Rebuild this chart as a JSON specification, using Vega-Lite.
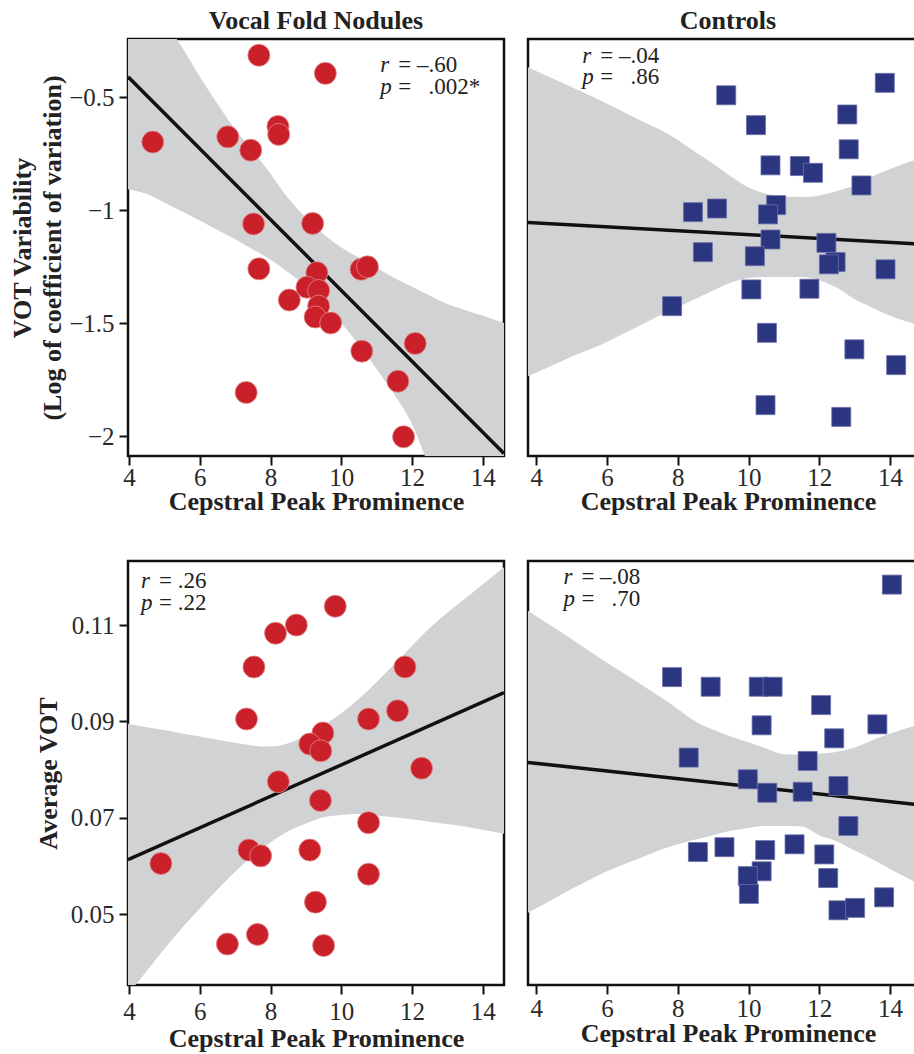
{
  "$schema": "https://vega.github.io/schema/vega-lite/v6.json",
  "padding": {"left": 8, "top": 6, "right": 0, "bottom": 0},
  "background": "white",
  "config": {
    "font": "Liberation Serif",
    "view": {"stroke": "#111", "strokeWidth": 2.5},
    "axis": {
      "grid": false, "domain": false, "ticks": true, "tickColor": "#111", "tickWidth": 2, "tickSize": 9,
      "labelFont": "Liberation Serif", "labelFontSize": 25, "labelColor": "#2a2a2a",
      "titleFont": "Liberation Serif", "titleFontSize": 26, "titleFontWeight": "bold", "titleColor": "#222"
    },
    "title": {"font": "Liberation Serif", "fontSize": 26, "fontWeight": "bold", "color": "#222", "anchor": "middle", "offset": 5}
  },
  "columns": 2,
  "bounds": "flush",
  "spacing": {"row": 105, "column": 24},
  "datasets": {
    "tl_pts": [
      {"cpp": 7.67, "v": -0.315}, {"cpp": 9.55, "v": -0.395}, {"cpp": 4.67, "v": -0.699}, {"cpp": 6.79, "v": -0.676},
      {"cpp": 7.44, "v": -0.735}, {"cpp": 8.21, "v": -0.630}, {"cpp": 8.23, "v": -0.665}, {"cpp": 7.52, "v": -1.061},
      {"cpp": 9.19, "v": -1.059}, {"cpp": 7.67, "v": -1.260}, {"cpp": 10.56, "v": -1.262}, {"cpp": 10.74, "v": -1.251},
      {"cpp": 9.31, "v": -1.277}, {"cpp": 9.03, "v": -1.341}, {"cpp": 9.36, "v": -1.356}, {"cpp": 8.53, "v": -1.398},
      {"cpp": 9.36, "v": -1.425}, {"cpp": 9.26, "v": -1.473}, {"cpp": 9.70, "v": -1.499}, {"cpp": 12.09, "v": -1.590},
      {"cpp": 10.58, "v": -1.624}, {"cpp": 11.60, "v": -1.757}, {"cpp": 7.31, "v": -1.807}, {"cpp": 11.76, "v": -2.003}
    ],
    "tl_band": [
      {"cpp": 3.97, "v": 0.09, "v2": -0.908}, {"cpp": 4.5, "v": -0.043, "v2": -0.929}, {"cpp": 5, "v": -0.16, "v2": -0.967},
      {"cpp": 5.5, "v": -0.28, "v2": -1.006}, {"cpp": 6, "v": -0.41, "v2": -1.046}, {"cpp": 6.5, "v": -0.53, "v2": -1.088},
      {"cpp": 7, "v": -0.645, "v2": -1.129}, {"cpp": 7.5, "v": -0.739, "v2": -1.174}, {"cpp": 8, "v": -0.839, "v2": -1.220},
      {"cpp": 8.5, "v": -0.948, "v2": -1.275}, {"cpp": 9, "v": -1.035, "v2": -1.337}, {"cpp": 9.5, "v": -1.107, "v2": -1.413},
      {"cpp": 10, "v": -1.166, "v2": -1.499}, {"cpp": 10.5, "v": -1.211, "v2": -1.597}, {"cpp": 11, "v": -1.255, "v2": -1.703},
      {"cpp": 11.5, "v": -1.300, "v2": -1.816}, {"cpp": 12, "v": -1.339, "v2": -1.946}, {"cpp": 12.5, "v": -1.378, "v2": -2.14},
      {"cpp": 13, "v": -1.416, "v2": -2.3}, {"cpp": 13.5, "v": -1.442, "v2": -2.45}, {"cpp": 14, "v": -1.468, "v2": -2.6},
      {"cpp": 14.6, "v": -1.499, "v2": -2.78}
    ],
    "tl_fit": [{"cpp": 3.97, "v": -0.410}, {"cpp": 14.6, "v": -2.077}],
    "tl_txt": [{"cpp": 11.10, "v": -0.390, "t": "r", "s": "= –.60"}, {"cpp": 11.10, "v": -0.487, "t": "p", "s": "= \u2007.002*"}],
    "tr_pts": [
      {"cpp": 13.85, "v": -0.437}, {"cpp": 9.37, "v": -0.492}, {"cpp": 10.21, "v": -0.624}, {"cpp": 12.79, "v": -0.577},
      {"cpp": 12.83, "v": -0.731}, {"cpp": 10.62, "v": -0.802}, {"cpp": 11.45, "v": -0.805}, {"cpp": 11.82, "v": -0.835},
      {"cpp": 13.19, "v": -0.891}, {"cpp": 8.43, "v": -1.009}, {"cpp": 9.11, "v": -0.993}, {"cpp": 10.78, "v": -0.978},
      {"cpp": 10.55, "v": -1.019}, {"cpp": 10.62, "v": -1.130}, {"cpp": 12.20, "v": -1.145}, {"cpp": 8.71, "v": -1.186},
      {"cpp": 10.18, "v": -1.204}, {"cpp": 12.46, "v": -1.230}, {"cpp": 12.27, "v": -1.240}, {"cpp": 13.87, "v": -1.262},
      {"cpp": 10.08, "v": -1.351}, {"cpp": 11.72, "v": -1.348}, {"cpp": 7.84, "v": -1.425}, {"cpp": 10.52, "v": -1.543},
      {"cpp": 12.99, "v": -1.616}, {"cpp": 14.17, "v": -1.686}, {"cpp": 10.48, "v": -1.863}, {"cpp": 12.62, "v": -1.915}
    ],
    "tr_band": [
      {"cpp": 3.77, "v": -0.368, "v2": -1.735}, {"cpp": 4.5, "v": -0.42, "v2": -1.684}, {"cpp": 5, "v": -0.455, "v2": -1.649},
      {"cpp": 5.86, "v": -0.518, "v2": -1.594}, {"cpp": 6.5, "v": -0.568, "v2": -1.544}, {"cpp": 7, "v": -0.607, "v2": -1.505},
      {"cpp": 7.75, "v": -0.665, "v2": -1.447}, {"cpp": 8.5, "v": -0.743, "v2": -1.393}, {"cpp": 9, "v": -0.795, "v2": -1.356},
      {"cpp": 9.63, "v": -0.865, "v2": -1.314}, {"cpp": 10, "v": -0.900, "v2": -1.300}, {"cpp": 10.5, "v": -0.928, "v2": -1.296},
      {"cpp": 11, "v": -0.940, "v2": -1.296}, {"cpp": 11.5, "v": -0.942, "v2": -1.296}, {"cpp": 12, "v": -0.935, "v2": -1.310},
      {"cpp": 12.5, "v": -0.915, "v2": -1.344}, {"cpp": 13, "v": -0.890, "v2": -1.395}, {"cpp": 13.5, "v": -0.850, "v2": -1.432},
      {"cpp": 14, "v": -0.818, "v2": -1.468}, {"cpp": 14.73, "v": -0.776, "v2": -1.506}, {"cpp": 15.1, "v": -0.755, "v2": -1.525}
    ],
    "tr_fit": [{"cpp": 3.77, "v": -1.055}, {"cpp": 15.07, "v": -1.152}],
    "tr_txt": [{"cpp": 5.30, "v": -0.350, "t": "r", "s": "= –.04"}, {"cpp": 5.30, "v": -0.443, "t": "p", "s": "= \u2007.86"}],
    "bl_pts": [
      {"cpp": 9.83, "v": 0.1139}, {"cpp": 8.73, "v": 0.1100}, {"cpp": 8.14, "v": 0.1083}, {"cpp": 7.53, "v": 0.1013},
      {"cpp": 11.80, "v": 0.1013}, {"cpp": 7.32, "v": 0.0905}, {"cpp": 10.77, "v": 0.0905}, {"cpp": 11.59, "v": 0.0922},
      {"cpp": 9.48, "v": 0.0876}, {"cpp": 9.11, "v": 0.0853}, {"cpp": 9.42, "v": 0.0839}, {"cpp": 12.27, "v": 0.0803},
      {"cpp": 8.22, "v": 0.0775}, {"cpp": 9.41, "v": 0.0736}, {"cpp": 10.77, "v": 0.0690}, {"cpp": 7.39, "v": 0.0633},
      {"cpp": 7.72, "v": 0.0621}, {"cpp": 9.11, "v": 0.0633}, {"cpp": 4.90, "v": 0.0605}, {"cpp": 10.77, "v": 0.0583},
      {"cpp": 9.27, "v": 0.0525}, {"cpp": 7.63, "v": 0.0458}, {"cpp": 6.78, "v": 0.0438}, {"cpp": 9.50, "v": 0.0435}
    ],
    "bl_band": [
      {"cpp": 3.97, "v": 0.0895, "v2": 0.0334}, {"cpp": 4.5, "v": 0.0888, "v2": 0.0382}, {"cpp": 5, "v": 0.0882, "v2": 0.0428},
      {"cpp": 5.5, "v": 0.0875, "v2": 0.0472}, {"cpp": 6, "v": 0.0869, "v2": 0.0512}, {"cpp": 6.5, "v": 0.0862, "v2": 0.0551},
      {"cpp": 7, "v": 0.0856, "v2": 0.0588}, {"cpp": 7.5, "v": 0.0850, "v2": 0.0621}, {"cpp": 8, "v": 0.0848, "v2": 0.0649},
      {"cpp": 8.5, "v": 0.0855, "v2": 0.0672}, {"cpp": 9, "v": 0.0871, "v2": 0.0688}, {"cpp": 9.5, "v": 0.0892, "v2": 0.0701},
      {"cpp": 10, "v": 0.0917, "v2": 0.0706}, {"cpp": 10.5, "v": 0.0947, "v2": 0.0708}, {"cpp": 11, "v": 0.0982, "v2": 0.0705},
      {"cpp": 11.5, "v": 0.1019, "v2": 0.0701}, {"cpp": 12, "v": 0.1057, "v2": 0.0697}, {"cpp": 12.5, "v": 0.1094, "v2": 0.0692},
      {"cpp": 13, "v": 0.1126, "v2": 0.0687}, {"cpp": 13.5, "v": 0.1155, "v2": 0.0682}, {"cpp": 14, "v": 0.1185, "v2": 0.0675},
      {"cpp": 14.6, "v": 0.1220, "v2": 0.0667}
    ],
    "bl_fit": [{"cpp": 3.97, "v": 0.0613}, {"cpp": 14.6, "v": 0.0960}],
    "bl_txt": [{"cpp": 4.34, "v": 0.1178, "t": "r", "s": "= .26"}, {"cpp": 4.34, "v": 0.1131, "t": "p", "s": "= .22"}],
    "br_pts": [
      {"cpp": 14.05, "v": 0.1184}, {"cpp": 7.84, "v": 0.0992}, {"cpp": 8.93, "v": 0.0972}, {"cpp": 10.29, "v": 0.0972},
      {"cpp": 10.68, "v": 0.0972}, {"cpp": 12.05, "v": 0.0934}, {"cpp": 10.37, "v": 0.0892}, {"cpp": 13.64, "v": 0.0894},
      {"cpp": 12.42, "v": 0.0865}, {"cpp": 8.31, "v": 0.0825}, {"cpp": 11.67, "v": 0.0818}, {"cpp": 9.98, "v": 0.0780},
      {"cpp": 10.53, "v": 0.0752}, {"cpp": 11.53, "v": 0.0754}, {"cpp": 12.54, "v": 0.0766}, {"cpp": 12.82, "v": 0.0683},
      {"cpp": 8.57, "v": 0.0629}, {"cpp": 9.32, "v": 0.0639}, {"cpp": 10.47, "v": 0.0633}, {"cpp": 11.30, "v": 0.0645},
      {"cpp": 12.14, "v": 0.0624}, {"cpp": 10.37, "v": 0.0589}, {"cpp": 9.98, "v": 0.0579}, {"cpp": 12.25, "v": 0.0575},
      {"cpp": 10.01, "v": 0.0542}, {"cpp": 13.83, "v": 0.0535}, {"cpp": 12.54, "v": 0.0508}, {"cpp": 13.01, "v": 0.0513}
    ],
    "br_band": [
      {"cpp": 3.77, "v": 0.1130, "v2": 0.0503}, {"cpp": 4.5, "v": 0.1095, "v2": 0.0532}, {"cpp": 5, "v": 0.1071, "v2": 0.0552},
      {"cpp": 5.5, "v": 0.1046, "v2": 0.0571}, {"cpp": 6, "v": 0.1022, "v2": 0.0589}, {"cpp": 6.5, "v": 0.0999, "v2": 0.0604},
      {"cpp": 7, "v": 0.0975, "v2": 0.0618}, {"cpp": 7.5, "v": 0.0951, "v2": 0.0633}, {"cpp": 8, "v": 0.0926, "v2": 0.0645},
      {"cpp": 8.5, "v": 0.0900, "v2": 0.0655}, {"cpp": 9, "v": 0.0883, "v2": 0.0664}, {"cpp": 9.5, "v": 0.0869, "v2": 0.0673},
      {"cpp": 10, "v": 0.0857, "v2": 0.0679}, {"cpp": 10.5, "v": 0.0844, "v2": 0.0683}, {"cpp": 11, "v": 0.0832, "v2": 0.0683},
      {"cpp": 11.5, "v": 0.0831, "v2": 0.0682}, {"cpp": 12, "v": 0.0833, "v2": 0.0664}, {"cpp": 12.5, "v": 0.0837, "v2": 0.0651},
      {"cpp": 13, "v": 0.0846, "v2": 0.0632}, {"cpp": 13.5, "v": 0.0861, "v2": 0.0614}, {"cpp": 14, "v": 0.0875, "v2": 0.0594},
      {"cpp": 14.65, "v": 0.0890, "v2": 0.0569}, {"cpp": 15.1, "v": 0.0900, "v2": 0.0552}
    ],
    "br_fit": [{"cpp": 3.77, "v": 0.0815}, {"cpp": 15.07, "v": 0.0725}],
    "br_txt": [{"cpp": 4.77, "v": 0.1186, "t": "r", "s": "= –.08"}, {"cpp": 4.77, "v": 0.1139, "t": "p", "s": "= \u2007.70"}]
  },
  "concat": [
    {
      "width": 376, "height": 417,
      "title": {"text": "Vocal Fold Nodules"},
      "encoding": {
        "x": {"field": "cpp", "type": "quantitative", "scale": {"domain": [3.97, 14.6], "nice": false, "zero": false},
              "axis": {"values": [4, 6, 8, 10, 12, 14], "title": "Cepstral Peak Prominence", "labelPadding": 0, "titlePadding": -2}},
        "y": {"field": "v", "type": "quantitative", "scale": {"domain": [-2.088, -0.243], "nice": false, "zero": false},
              "axis": {"values": [-0.5, -1, -1.5, -2], "format": "~g", "title": ["VOT Variability", "(Log of coefficient of variation)"], "titleLineHeight": 30, "labelPadding": 5, "titlePadding": 3}}
      },
      "layer": [
        {"data": {"name": "tl_band"}, "mark": {"type": "area", "clip": true, "color": "#d1d2d4", "interpolate": "monotone"}, "encoding": {"y2": {"field": "v2"}}},
        {"data": {"name": "tl_fit"}, "mark": {"type": "line", "clip": true, "color": "#111", "strokeWidth": 3.5}, "encoding": {}},
        {"data": {"name": "tl_pts"}, "mark": {"type": "point", "shape": "circle", "filled": true, "size": 484, "fill": "#c9202a", "stroke": "#e08a8a", "strokeWidth": 0.8, "opacity": 1}, "encoding": {}},
        {"data": {"name": "tl_txt"}, "mark": {"type": "text", "align": "left", "baseline": "alphabetic", "fontStyle": "italic", "fontSize": 23, "color": "#222"}, "encoding": {"text": {"field": "t"}}},
        {"data": {"name": "tl_txt"}, "mark": {"type": "text", "align": "left", "baseline": "alphabetic", "fontSize": 23, "dx": 18, "color": "#222"}, "encoding": {"text": {"field": "s"}}}
      ]
    },
    {
      "width": 400, "height": 417,
      "title": {"text": "Controls"},
      "encoding": {
        "x": {"field": "cpp", "type": "quantitative", "scale": {"domain": [3.77, 15.07], "nice": false, "zero": false},
              "axis": {"values": [4, 6, 8, 10, 12, 14], "title": "Cepstral Peak Prominence", "labelPadding": 0, "titlePadding": -2}},
        "y": {"field": "v", "type": "quantitative", "scale": {"domain": [-2.088, -0.243], "nice": false, "zero": false}, "axis": null}
      },
      "layer": [
        {"data": {"name": "tr_band"}, "mark": {"type": "area", "clip": true, "color": "#d1d2d4", "interpolate": "monotone"}, "encoding": {"y2": {"field": "v2"}}},
        {"data": {"name": "tr_fit"}, "mark": {"type": "line", "clip": true, "color": "#111", "strokeWidth": 3.5}, "encoding": {}},
        {"data": {"name": "tr_pts"}, "mark": {"type": "point", "shape": "square", "filled": true, "size": 361, "fill": "#2c3580", "stroke": "#6a70a8", "strokeWidth": 0.8, "opacity": 1}, "encoding": {}},
        {"data": {"name": "tr_txt"}, "mark": {"type": "text", "align": "left", "baseline": "alphabetic", "fontStyle": "italic", "fontSize": 23, "color": "#222"}, "encoding": {"text": {"field": "t"}}},
        {"data": {"name": "tr_txt"}, "mark": {"type": "text", "align": "left", "baseline": "alphabetic", "fontSize": 23, "dx": 18, "color": "#222"}, "encoding": {"text": {"field": "s"}}}
      ]
    },
    {
      "width": 376, "height": 424,
      "encoding": {
        "x": {"field": "cpp", "type": "quantitative", "scale": {"domain": [3.97, 14.6], "nice": false, "zero": false},
              "axis": {"values": [4, 6, 8, 10, 12, 14], "title": "Cepstral Peak Prominence", "labelPadding": 5, "titlePadding": 1}},
        "y": {"field": "v", "type": "quantitative", "scale": {"domain": [0.0353, 0.1233], "nice": false, "zero": false},
              "axis": {"values": [0.05, 0.07, 0.09, 0.11], "format": ".2f", "title": "Average VOT", "labelPadding": 5, "titlePadding": 9}}
      },
      "layer": [
        {"data": {"name": "bl_band"}, "mark": {"type": "area", "clip": true, "color": "#d1d2d4", "interpolate": "monotone"}, "encoding": {"y2": {"field": "v2"}}},
        {"data": {"name": "bl_fit"}, "mark": {"type": "line", "clip": true, "color": "#111", "strokeWidth": 3.5}, "encoding": {}},
        {"data": {"name": "bl_pts"}, "mark": {"type": "point", "shape": "circle", "filled": true, "size": 484, "fill": "#c9202a", "stroke": "#e08a8a", "strokeWidth": 0.8, "opacity": 1}, "encoding": {}},
        {"data": {"name": "bl_txt"}, "mark": {"type": "text", "align": "left", "baseline": "alphabetic", "fontStyle": "italic", "fontSize": 23, "color": "#222"}, "encoding": {"text": {"field": "t"}}},
        {"data": {"name": "bl_txt"}, "mark": {"type": "text", "align": "left", "baseline": "alphabetic", "fontSize": 23, "dx": 18, "color": "#222"}, "encoding": {"text": {"field": "s"}}}
      ]
    },
    {
      "width": 400, "height": 424,
      "encoding": {
        "x": {"field": "cpp", "type": "quantitative", "scale": {"domain": [3.77, 15.07], "nice": false, "zero": false},
              "axis": {"values": [4, 6, 8, 10, 12, 14], "title": "Cepstral Peak Prominence", "labelPadding": 2, "titlePadding": -1}},
        "y": {"field": "v", "type": "quantitative", "scale": {"domain": [0.0353, 0.1233], "nice": false, "zero": false}, "axis": null}
      },
      "layer": [
        {"data": {"name": "br_band"}, "mark": {"type": "area", "clip": true, "color": "#d1d2d4", "interpolate": "monotone"}, "encoding": {"y2": {"field": "v2"}}},
        {"data": {"name": "br_fit"}, "mark": {"type": "line", "clip": true, "color": "#111", "strokeWidth": 3.5}, "encoding": {}},
        {"data": {"name": "br_pts"}, "mark": {"type": "point", "shape": "square", "filled": true, "size": 361, "fill": "#2c3580", "stroke": "#6a70a8", "strokeWidth": 0.8, "opacity": 1}, "encoding": {}},
        {"data": {"name": "br_txt"}, "mark": {"type": "text", "align": "left", "baseline": "alphabetic", "fontStyle": "italic", "fontSize": 23, "color": "#222"}, "encoding": {"text": {"field": "t"}}},
        {"data": {"name": "br_txt"}, "mark": {"type": "text", "align": "left", "baseline": "alphabetic", "fontSize": 23, "dx": 18, "color": "#222"}, "encoding": {"text": {"field": "s"}}}
      ]
    }
  ]
}
